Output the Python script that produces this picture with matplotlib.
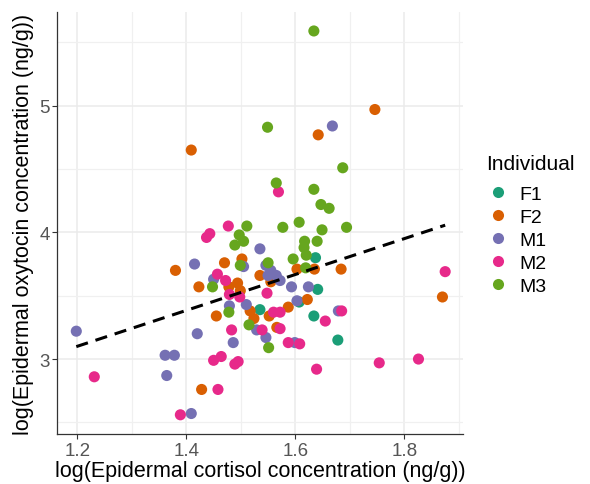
import matplotlib
matplotlib.use("Agg")
import matplotlib.pyplot as plt
import numpy as np
from matplotlib.lines import Line2D

plt.rcParams['font.family'] = ['Liberation Sans', 'DejaVu Sans']

groups = ["F1", "F2", "M1", "M2", "M3"]
colors = {"F1": "#1B9E77", "F2": "#D95F02", "M1": "#7570B3", "M2": "#E7298A", "M3": "#66A61E"}

f1_x = [1.637, 1.641, 1.607, 1.535, 1.634, 1.678]
f1_y = [3.80, 3.55, 3.45, 3.39, 3.34, 3.15]

f2_x = [1.409, 1.746, 1.642, 1.380, 1.423, 1.470, 1.502, 1.478, 1.494, 1.499, 1.455, 1.428,
        1.535, 1.555, 1.603, 1.635, 1.684, 1.622, 1.587, 1.552, 1.524, 1.517, 1.566, 1.870]
f2_y = [4.65, 4.97, 4.77, 3.70, 3.57, 3.76, 3.79, 3.57, 3.60, 3.54, 3.34, 2.76,
        3.66, 3.61, 3.71, 3.71, 3.71, 3.47, 3.41, 3.34, 3.32, 3.38, 3.25, 3.49]

m1_x = [1.198, 1.415, 1.450, 1.505, 1.535, 1.479, 1.510, 1.420, 1.486, 1.361, 1.378, 1.364,
        1.409, 1.668, 1.546, 1.555, 1.565, 1.572, 1.550, 1.593, 1.624, 1.603, 1.679, 1.529,
        1.546, 1.599]
m1_y = [3.22, 3.75, 3.63, 3.73, 3.87, 3.42, 3.43, 3.20, 3.13, 3.03, 3.03, 2.87,
        2.57, 4.84, 3.74, 3.70, 3.66, 3.62, 3.66, 3.57, 3.57, 3.46, 3.38, 3.23,
        3.17, 3.13]

m2_x = [1.231, 1.437, 1.443, 1.477, 1.569, 1.457, 1.472, 1.479, 1.498, 1.483, 1.450, 1.464,
        1.489, 1.495, 1.458, 1.389, 1.548, 1.560, 1.572, 1.539, 1.572, 1.587, 1.608, 1.655,
        1.685, 1.639, 1.754, 1.826, 1.875]
m2_y = [2.86, 3.96, 3.99, 4.05, 4.32, 3.67, 3.62, 3.51, 3.49, 3.23, 2.99, 3.02,
        2.96, 2.98, 2.76, 2.56, 3.52, 3.37, 3.37, 3.23, 3.24, 3.13, 3.12, 3.30,
        3.38, 2.92, 2.97, 3.00, 3.69]

m3_x = [1.634, 1.549, 1.687, 1.565, 1.634, 1.647, 1.662, 1.607, 1.577, 1.511, 1.649, 1.694,
        1.497, 1.505, 1.489, 1.617, 1.640, 1.616, 1.620, 1.596, 1.619, 1.550, 1.499, 1.448,
        1.478, 1.515, 1.551]
m3_y = [5.59, 4.83, 4.51, 4.39, 4.34, 4.22, 4.19, 4.08, 4.04, 4.05, 4.02, 4.04,
        3.98, 3.93, 3.90, 3.93, 3.93, 3.88, 3.82, 3.79, 3.72, 3.76, 3.74, 3.57,
        3.37, 3.27, 3.09]

data = {"F1": (f1_x, f1_y), "F2": (f2_x, f2_y), "M1": (m1_x, m1_y),
        "M2": (m2_x, m2_y), "M3": (m3_x, m3_y)}

x_ticks = [1.2, 1.4, 1.6, 1.8]
y_ticks = [3, 4, 5]

fig = plt.figure(figsize=(5.9, 4.85), dpi=100)
ax = fig.add_axes([0.097, 0.103, 0.688, 0.870])

for g in groups:
    xs, ys = data[g]
    ax.scatter(xs, ys, s=64, color=colors[g], edgecolors='none', zorder=3)

all_x = np.concatenate([np.array(data[g][0]) for g in groups])
all_y = np.concatenate([np.array(data[g][1]) for g in groups])
slope, intercept = np.polyfit(all_x, all_y, 1)
lx = np.array([all_x.min(), all_x.max()])
ax.plot(lx, intercept + slope * lx, color='black', linestyle=(0, (4, 2.6)), linewidth=2.2, zorder=4)

ax.set_xlim(1.163, 1.908)
ax.set_ylim(2.408, 5.739)
ax.set_xticks(x_ticks)
ax.set_yticks(y_ticks)
ax.set_xticks([1.3, 1.5, 1.7, 1.9], minor=True)
ax.set_yticks([2.5, 3.5, 4.5, 5.5], minor=True)
ax.grid(True, which='major', color='#EBEBEB', linewidth=1.1, zorder=0)
ax.grid(True, which='minor', color='#F0F0F0', linewidth=0.9, zorder=0)
ax.set_axisbelow(True)
for s in ['top', 'right']:
    ax.spines[s].set_visible(False)
for s in ['left', 'bottom']:
    ax.spines[s].set_color('#333333')
    ax.spines[s].set_linewidth(0.9)
ax.tick_params(axis='both', which='major', length=3.5, width=0.8, color='#333333',
               labelsize=13.5, labelcolor='#555555', pad=2)
ax.tick_params(axis='both', which='minor', length=0)
ax.set_xticklabels([f"{v:.1f}" for v in x_ticks])
ax.set_yticklabels([str(v) for v in y_ticks])

ax.set_xlabel("log(Epidermal cortisol concentration (ng/g))", fontsize=15.5, color='black', labelpad=1)
ax.set_ylabel("log(Epidermal oxytocin concentration (ng/g))", fontsize=15.5, color='black', labelpad=4)

handles = [Line2D([0], [0], marker='o', linestyle='none', markersize=8,
                  markerfacecolor=colors[g], markeredgecolor='none') for g in groups]
leg = ax.legend(handles, groups, title="Individual", loc='upper left',
                bbox_to_anchor=(1.038, 0.683), frameon=False, fontsize=14,
                title_fontsize=15, handletextpad=0.5, labelspacing=0.28,
                handlelength=1.2, borderaxespad=0)
leg._legend_box.align = 'left'
leg._legend_box.sep = 9

fig.savefig("out.png", dpi=100)
